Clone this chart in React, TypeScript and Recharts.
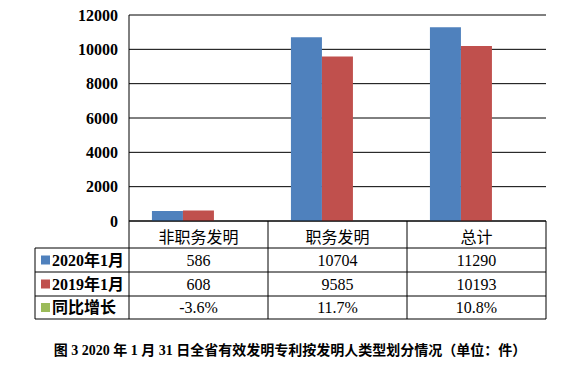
import React from 'react';
import { BarChart, Bar, XAxis, YAxis, CartesianGrid } from 'recharts';

const categories = ['非职务发明', '职务发明', '总计'];
const series2020 = [586, 10704, 11290];
const series2019 = [608, 9585, 10193];
const growthPct = [-3.6, 11.7, 10.8];
const seriesNames = ['2020年1月', '2019年1月', '同比增长'];
const seriesColors = ['#4F81BD', '#C0504D', '#9BBB59'];
const yTicks = [0, 2000, 4000, 6000, 8000, 10000, 12000];
const caption = '图 3 2020 年 1 月 31 日全省有效发明专利按发明人类型划分情况（单位：件）';

const data = categories.map((c, i) => ({
  name: c,
  a: series2020[i],
  b: series2019[i],
  g: growthPct[i] / 100,
}));

const rowTexts = [
  series2020.map((v) => String(v)),
  series2019.map((v) => String(v)),
  growthPct.map((v) => `${v.toFixed(1)}%`),
];

const HEADER_H = 27;
const ROW_LINES = [27, 51, 75, 98];
const ROW_CENTERS = [39, 63, 86.5];
const LEFT_COL_W = 94;

const serif = "'Liberation Serif', 'Noto Sans CJK SC', serif";
const cjk = "'Noto Sans CJK SC', sans-serif";

function TableTick(props: any) {
  const { x, y, payload } = props;
  const i: number = payload.index;
  const half: number = payload.offset || 69.5;
  const left = x - half;
  const right = x + half;
  const lineProps = { stroke: '#000', strokeWidth: 1 };
  return (
    <g>
      {ROW_LINES.map((dy) => (
        <line key={dy} x1={left} x2={right} y1={y + dy} y2={y + dy} {...lineProps} />
      ))}
      <line x1={right} x2={right} y1={y} y2={y + 98} {...lineProps} />
      {i === 0 && <line x1={left} x2={left} y1={y} y2={y + 98} {...lineProps} />}
      <text
        x={x}
        y={y + HEADER_H / 2 + 1}
        textAnchor="middle"
        dominantBaseline="central"
        fontSize={16}
        fontFamily={cjk}
        fill="#000"
      >
        {payload.value}
      </text>
      {rowTexts.map((row, r) => (
        <text
          key={r}
          x={x}
          y={y + ROW_CENTERS[r]}
          textAnchor="middle"
          dominantBaseline="central"
          fontSize={16}
          fontFamily={serif}
          fill="#000"
        >
          {row[i]}
        </text>
      ))}
      {i === 0 && (
        <g>
          {ROW_LINES.map((dy) => (
            <line key={dy} x1={left - LEFT_COL_W} x2={left} y1={y + dy} y2={y + dy} {...lineProps} />
          ))}
          <line x1={left - LEFT_COL_W} x2={left - LEFT_COL_W} y1={y + 27} y2={y + 98} {...lineProps} />
          {seriesNames.map((n, r) => (
            <g key={n}>
              <rect
                x={left - LEFT_COL_W + 6}
                y={y + ROW_CENTERS[r] - 4.5}
                width={9}
                height={9}
                fill={seriesColors[r]}
              />
              <text
                x={left - LEFT_COL_W + 17}
                y={y + ROW_CENTERS[r]}
                dominantBaseline="central"
                fontSize={16}
                fontWeight="bold"
                fontFamily={serif}
                fill="#000"
              >
                {n}
              </text>
            </g>
          ))}
        </g>
      )}
    </g>
  );
}

export default function App() {
  return (
    <div style={{ position: 'absolute', left: 0, top: 0, width: 577, height: 372, background: '#fff' }}>
      <BarChart
        width={577}
        height={372}
        data={data}
        margin={{ top: 15, right: 31, bottom: 53, left: 9 }}
        barCategoryGap="16.5%"
        barGap={0}
      >
        <CartesianGrid vertical={false} stroke="#000" strokeWidth={1} />
        <XAxis
          dataKey="name"
          height={98}
          interval={0}
          tickLine={false}
          tickSize={0}
          tickMargin={0}
          axisLine={{ stroke: '#000' }}
          tick={<TableTick />}
        />
        <YAxis
          width={120}
          domain={[0, 12000]}
          ticks={yTicks}
          allowDataOverflow
          tickLine={false}
          tickSize={0}
          tickMargin={11}
          axisLine={{ stroke: '#000' }}
          tick={{ fill: '#000', fontSize: 16, fontWeight: 'bold', fontFamily: serif }}
        />
        <YAxis
          yAxisId="r"
          orientation="right"
          width={0}
          tick={false}
          tickLine={false}
          axisLine={{ stroke: '#000' }}
        />
        <Bar dataKey="a" name={seriesNames[0]} fill={seriesColors[0]} isAnimationActive={false} />
        <Bar dataKey="b" name={seriesNames[1]} fill={seriesColors[1]} isAnimationActive={false} />
        <Bar dataKey="g" name={seriesNames[2]} fill={seriesColors[2]} isAnimationActive={false} />
      </BarChart>
      <div
        style={{
          position: 'absolute',
          left: 0,
          top: 341,
          width: 580,
          textAlign: 'center',
          fontSize: 14,
          fontWeight: 'bold',
          fontFamily: serif,
          lineHeight: '20px',
          color: '#000',
          whiteSpace: 'nowrap',
        }}
      >
        {caption}
      </div>
    </div>
  );
}
